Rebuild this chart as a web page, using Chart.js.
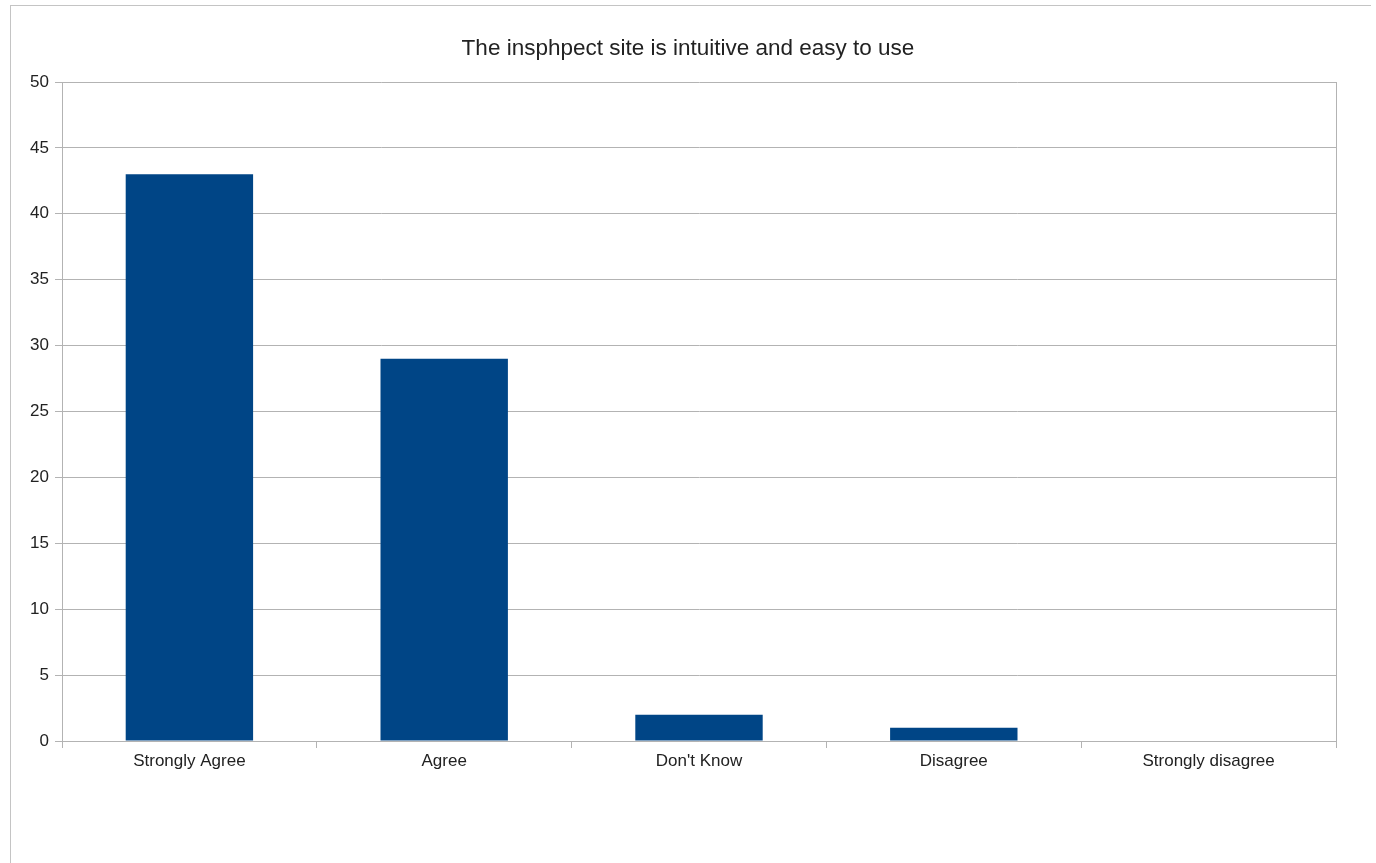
<!DOCTYPE html>
<html>
<head>
<meta charset="utf-8">
<script src="https://cdn.jsdelivr.net/npm/chart.js@4/dist/chart.umd.min.js"></script>
<style>
  html, body { margin: 0; padding: 0; background: #fff; }
  #wrap { position: relative; width: 1376px; height: 863px; }
  #frame {
    position: absolute; left: 10px; top: 5px; width: 1361px; height: 858px;
    border-top: 1px solid #c4c4c4; border-left: 1px solid #c4c4c4;
    box-sizing: border-box;
  }
  canvas { position: absolute; left: 0; top: 0; }
</style>
</head>
<body>
<div id="wrap">
  <div id="frame"></div>
  <canvas id="chart" width="1376" height="863"></canvas>
</div>
<script>
// Survey answers
const categories = ["Strongly Agree", "Agree", "Don't Know", "Disagree", "Strongly disagree"];
const responses = [43, 29, 2, 1, 0];
const yTicks = [0, 5, 10, 15, 20, 25, 30, 35, 40, 45, 50];

const gridColor = "#b3b3b3";
const textColor = "#222";
const font = "'Liberation Sans', Arial, sans-serif";

const ctx = document.getElementById("chart").getContext("2d");

const chart = new Chart(ctx, {
  type: "bar",
  data: {
    labels: categories,
    datasets: [
      {
        label: "Responses",
        data: responses,
        backgroundColor: "#004586",
        borderWidth: 0,
        barPercentage: 0.5,
        categoryPercentage: 1,
      },
    ],
  },
  options: {
    responsive: false,
    animation: false,
    layout: { padding: 0 },
    plugins: {
      legend: { display: false },
      tooltip: { enabled: false },
      title: {
        display: true,
        text: "The insphpect site is intuitive and easy to use",
        color: textColor,
        font: { family: font, size: 22.5, weight: "normal", lineHeight: 1.2 },
        padding: { top: 35.5, bottom: 19.5 },
      },
    },
    scales: {
      x: {
        offset: true,
        grid: {
          offset: true,
          drawOnChartArea: false,
          drawTicks: true,
          tickLength: 7,
          color: gridColor,
        },
        border: { display: true, color: gridColor, width: 1 },
        ticks: {
          color: textColor,
          font: { family: font, size: 17 },
          padding: 3,
          maxRotation: 0,
        },
        afterFit: (scale) => {
          scale.height = 122;
        },
      },
      y: {
        min: 0,
        max: 50,
        afterBuildTicks: (scale) => {
          scale.ticks = yTicks.map((v) => ({ value: v }));
        },
        grid: { color: gridColor, tickLength: 7, drawTicks: true },
        border: { display: true, color: gridColor, width: 1 },
        ticks: {
          color: textColor,
          font: { family: font, size: 17 },
          padding: 6,
        },
        afterFit: (scale) => {
          scale.width = 62;
        },
      },
      // only there to draw the right edge of the plot area
      yRight: {
        position: "right",
        min: 0,
        max: 50,
        grid: { drawOnChartArea: false, drawTicks: false },
        border: { display: true, color: gridColor, width: 1 },
        ticks: { display: false },
        afterFit: (scale) => {
          scale.width = 40;
        },
      },
    },
  },
});
</script>
</body>
</html>
